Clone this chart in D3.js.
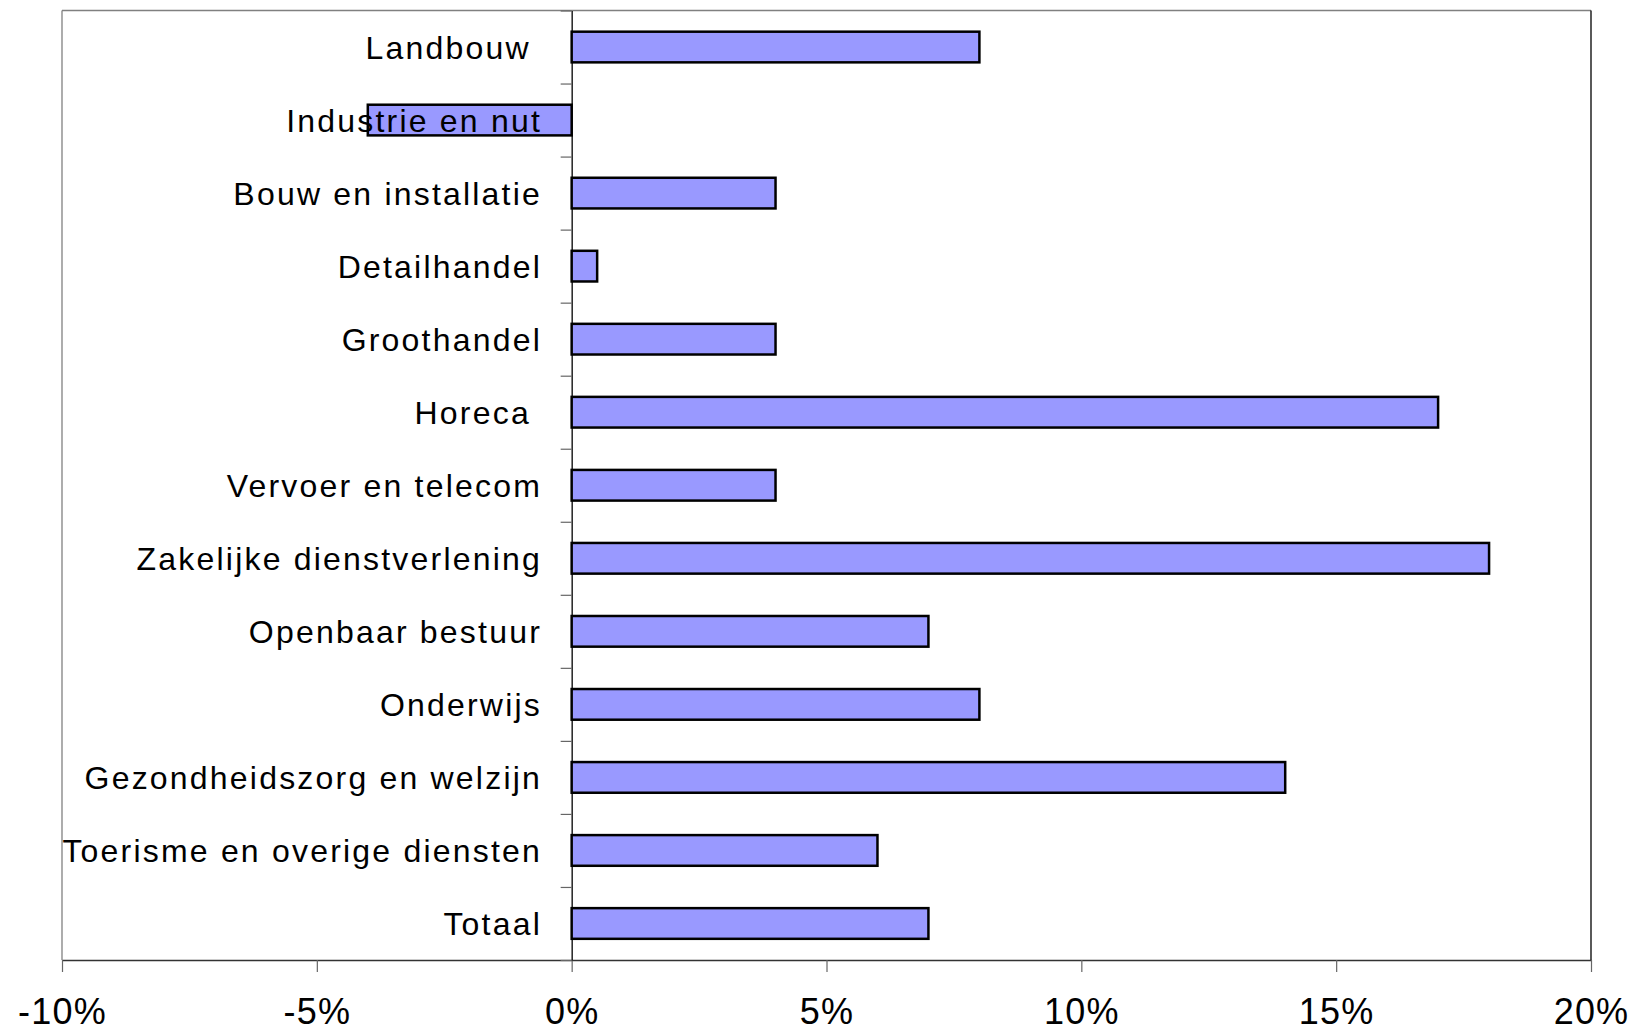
<!DOCTYPE html>
<html><head><meta charset="utf-8">
<script src="https://cdn.jsdelivr.net/npm/d3@7"></script>
<style>
html,body{margin:0;padding:0;background:#fff;}
text{font-family:"Liberation Sans",Arial,sans-serif;fill:#000;}
</style></head>
<body>
<svg id="chart" width="1634" height="1032"></svg>
<script>
const categories = ["Landbouw ","Industrie en nut","Bouw en installatie","Detailhandel","Groothandel","Horeca ","Vervoer en telecom","Zakelijke dienstverlening","Openbaar bestuur","Onderwijs","Gezondheidszorg en welzijn","Toerisme en overige diensten","Totaal"];
const values = [0.08,-0.04,0.04,0.005,0.04,0.17,0.04,0.18,0.07,0.08,0.14,0.06,0.07];
const xTicks = [-0.10,-0.05,0,0.05,0.10,0.15,0.20];

const svg = d3.select("#chart");
const L = 62, R = 1591, T = 10.5, B = 960;

const x = d3.scaleLinear().domain([-0.10,0.20]).range([L,R]);
const y = d3.scaleBand().domain(categories).range([T,B]).paddingInner(0.58).paddingOuter(0.29);
const yIdx = d3.scaleLinear().domain([0,categories.length]).range([T,B]);
const pct = d3.format(".0%");

// frame
svg.append("line").attr("x1",L).attr("x2",R).attr("y1",T).attr("y2",T).attr("stroke","#808080").attr("stroke-width",1.3);
svg.append("line").attr("x1",L).attr("x2",L).attr("y1",T).attr("y2",B).attr("stroke","#808080").attr("stroke-width",1.3);
svg.append("line").attr("x1",R).attr("x2",R).attr("y1",T).attr("y2",B).attr("stroke","#000").attr("stroke-width",1.3);

// x axis
const xAxis = svg.append("g").attr("transform",`translate(0,${B})`)
  .call(d3.axisBottom(x).tickValues(xTicks).tickFormat(d=>pct(d).replace("\u2212","-")).tickSizeInner(12).tickSizeOuter(0));
xAxis.select(".domain").attr("stroke","#333").attr("stroke-width",1.5);
xAxis.selectAll(".tick line").attr("stroke","#666").attr("stroke-width",1.2);
xAxis.selectAll(".tick text").attr("y",64).attr("dy",0).attr("font-size",36)
  .attr("font-family","Liberation Sans, Arial, sans-serif").attr("fill","#000").style("letter-spacing","1.2px");

// category ticks on the zero line
const yAxis = svg.append("g").attr("transform",`translate(${x(0)},0)`)
  .call(d3.axisLeft(yIdx).tickValues(d3.range(0,categories.length+1)).tickFormat("").tickSizeInner(11).tickSizeOuter(0));
yAxis.select(".domain").attr("stroke","#000").attr("stroke-width",1.3);
yAxis.selectAll(".tick line").attr("stroke","#666").attr("stroke-width",1.2);

// bars
svg.append("g").selectAll("rect").data(values).join("rect")
  .attr("x",d=>x(Math.min(0,d)))
  .attr("width",d=>Math.abs(x(d)-x(0)))
  .attr("y",(d,i)=>y(categories[i]))
  .attr("height",y.bandwidth())
  .attr("fill","#9999FF").attr("stroke","#000").attr("stroke-width",2.5);

// labels (on top of bars, as in the reference)
svg.append("g").selectAll("text").data(categories).join("text")
  .attr("x",542).attr("y",d=>y(d)+y.bandwidth()/2+12)
  .attr("text-anchor","end").attr("font-size",32)
  .style("letter-spacing","2.2px").style("white-space","pre")
  .text(d=>d);
</script>
</body></html>
